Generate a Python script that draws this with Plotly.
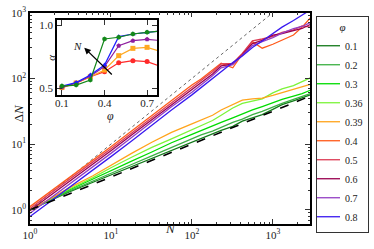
import plotly.graph_objects as go

# ---------------- data ----------------
N = [1, 2, 3, 6, 10, 18, 32, 56, 100, 130, 180, 230, 320, 420, 560, 740, 1000, 1300, 1800, 2300, 2900]

phi_labels = ["0.1", "0.2", "0.3", "0.36", "0.39", "0.4", "0.5", "0.6", "0.7", "0.8"]
phi_colors = ["#13791a", "#3cb043", "#00dc00", "#7cf43a", "#ffa41c",
              "#ff5a1a", "#dc3c55", "#99004f", "#9440c4", "#3a1af0"]

dN_01 = [1.0, 1.48, 1.86, 2.63, 3.39, 4.57, 6.03, 7.94, 10.7, 12.3, 14.5, 16.2, 18.6, 22.4, 25.1, 28.2, 33.9, 39.8, 45.7, 51.3, 56.2]
dN_02 = [1.0, 1.51, 1.91, 2.75, 3.63, 4.90, 6.61, 8.91, 12.0, 13.8, 15.8, 18.2, 21.4, 24.0, 28.2, 31.6, 37.2, 41.7, 47.9, 53.7, 58.9]
dN_03 = [1.0, 1.55, 2.0, 2.95, 3.98, 5.50, 7.59, 10.5, 14.1, 16.2, 19.1, 21.4, 25.1, 28.8, 33.1, 37.2, 42.7, 47.9, 53.7, 58.9, 66.1]
dN_036 = [1.0, 1.58, 2.04, 3.09, 4.37, 6.31, 8.91, 12.0, 16.6, 19.5, 22.9, 27.5, 35.5, 41.7, 45.7, 49.0, 60.3, 69.2, 77.6, 89.1, 102]
dN_039 = [0.977, 1.62, 2.14, 3.31, 4.79, 7.24, 10.7, 15.1, 20.4, 23.4, 27.5, 33.1, 39.8, 46.8, 49.0, 50.1, 55.0, 60.3, 67.6, 74.1, 81.3]
dN_04 = [1.12, 2.09, 3.02, 5.75, 9.12, 15.8, 26.9, 45.7, 79.4, 97.7, 132, 170, 145, 234, 363, 288, 331, 380, 457, 603, 832]
dN_05 = [1.05, 1.95, 2.82, 5.37, 8.51, 14.8, 25.1, 42.7, 74.1, 93.3, 126, 166, 170, 240, 372, 398, 437, 501, 550, 631, 603]
dN_06 = [0.977, 1.82, 2.63, 5.01, 7.94, 13.8, 23.4, 39.8, 67.6, 87.1, 117, 155, 166, 229, 339, 380, 457, 479, 525, 575, 661]
dN_07 = [0.891, 1.66, 2.40, 4.57, 7.24, 12.6, 21.9, 37.2, 61.7, 79.4, 110, 145, 162, 224, 316, 363, 417, 490, 575, 617, 708]
dN_08 = [0.794, 1.48, 2.14, 4.07, 6.46, 11.2, 19.5, 33.1, 56.2, 72.4, 100, 126, 174, 219, 295, 372, 479, 603, 760, 920, 1100]
dN_series = [dN_01, dN_02, dN_03, dN_036, dN_039, dN_04, dN_05, dN_06, dN_07, dN_08]

# reference lines
ref_N = [1, 2900]
ref_sqrt = [1, 53.9]      # dashed, slope 1/2
ref_lin = [1, 2900]       # dotted, slope 1

# inset: alpha vs phi for increasing N
phi_inset = [0.1, 0.2, 0.3, 0.4, 0.5, 0.6, 0.7, 0.8]
alpha_N1 = [0.503, 0.538, 0.59, 0.63, 0.70, 0.717, 0.71, 0.67]
alpha_N2 = [0.505, 0.54, 0.59, 0.643, 0.757, 0.815, 0.823, 0.79]
alpha_N3 = [0.507, 0.541, 0.595, 0.67, 0.836, 0.876, 0.887, 0.876]
alpha_N4 = [0.516, 0.543, 0.604, 0.683, 0.908, 0.929, 0.942, 0.953]
alpha_N5 = [0.516, 0.524, 0.564, 0.889, 0.903, 0.929, 0.942, 0.953]
alpha_series = [alpha_N1, alpha_N2, alpha_N3, alpha_N4, alpha_N5]
alpha_colors = ["#ff2a2a", "#ffa820", "#8e1d9e", "#1e1eff", "#13881a"]
alpha_symbols = ["circle", "square", "pentagon", "triangle-up", "hexagon"]

# ---------------- figure ----------------
FONT = "Liberation Serif"
fig = go.Figure()

fig.add_trace(go.Scatter(x=ref_N, y=ref_lin, mode="lines", showlegend=False,
                         line=dict(color="#666666", width=1, dash="dot"), hoverinfo="skip"))

for lab, col, ys in zip(phi_labels, phi_colors, dN_series):
    fig.add_trace(go.Scatter(x=N, y=ys, mode="lines", name=lab,
                             line=dict(color=col, width=1.3)))

fig.add_trace(go.Scatter(x=ref_N, y=ref_sqrt, mode="lines", showlegend=False,
                         line=dict(color="black", width=1.6, dash="dash"), hoverinfo="skip"))

for ys, col, sym in zip(alpha_series, alpha_colors, alpha_symbols):
    fig.add_trace(go.Scatter(x=phi_inset, y=ys, mode="lines+markers", showlegend=False,
                             xaxis="x2", yaxis="y2",
                             line=dict(color=col, width=1.2),
                             marker=dict(color=col, symbol=sym, size=5)))

dec_vals = [1, 10, 100, 1000]
dec_text = ["10<sup>0</sup>", "10<sup>1</sup>", "10<sup>2</sup>", "10<sup>3</sup>"]
minor_vals = [m * 10 ** e for e in range(-1, 4) for m in range(2, 10)]

axis_common = dict(showgrid=False, zeroline=False, showline=True, linecolor="black",
                   linewidth=1.5, ticks="inside", ticklen=5, tickwidth=1, tickcolor="#333",
                   mirror="allticks", automargin=False,
                   tickfont=dict(family=FONT, size=11, color="#222"))

txt = dict(family=FONT, color="#222")

fig.update_layout(
    width=374, height=249,
    margin=dict(l=0, r=0, t=0, b=0, pad=0, autoexpand=False),
    paper_bgcolor="white", plot_bgcolor="white",
    font=dict(family=FONT, color="#222"),
    xaxis=dict(type="log", range=[0, 3.46], domain=[0.0802, 0.829],
               tickvals=dec_vals, ticktext=dec_text, anchor="y",
               minor=dict(ticks="inside", ticklen=2.5, tickvals=minor_vals, tickcolor="#333"),
               **axis_common),
    yaxis=dict(type="log", range=[-0.215, 3], domain=[0.1004, 0.949],
               tickvals=dec_vals, ticktext=dec_text, anchor="x",
               minor=dict(ticks="inside", ticklen=2.5, tickvals=minor_vals, tickcolor="#333"),
               **axis_common),
    xaxis2=dict(range=[0.065, 0.77], domain=[0.1524, 0.4198], anchor="y2",
                tickvals=[0.1, 0.4, 0.7], ticktext=["0.1", "0.4", "0.7"],
                ticklabelstandoff=-3,
                **axis_common),
    yaxis2=dict(range=[0.445, 1.04], domain=[0.6185, 0.9197], anchor="x2",
                tickvals=[0.5, 1.0], ticktext=["0.5", "1.0"],
                **axis_common),
    legend=dict(x=0.845, y=0.936, xanchor="left", yanchor="top",
                bordercolor="#333", borderwidth=1, bgcolor="white",
                font=dict(family=FONT, size=10, color="#222"),
                title=dict(text="<i>φ</i>", side="top center", font=dict(family=FONT, size=11)),
                itemwidth=30, tracegroupgap=0, indentation=-12),
    annotations=[
        dict(text="Δ<i>N</i>", x=0.024, y=0.547, xref="paper", yref="paper",
             textangle=-90, showarrow=False, font=dict(size=13, **txt)),
        dict(text="<i>N</i>", x=0.455, y=0.045, xref="paper", yref="paper",
             showarrow=False, font=dict(size=13, **txt)),
        dict(text="<i>φ</i>", x=0.281, y=0.534, xref="paper", yref="paper",
             showarrow=False, font=dict(size=12, **txt)),
        dict(text="<i>α</i>", x=0.114, y=0.787, xref="paper", yref="paper",
             textangle=-90, showarrow=False, font=dict(size=11, **txt)),
        dict(x=0.257, y=0.82, ax=0.462, ay=0.596, xref="x2", yref="y2", axref="x2", ayref="y2",
             showarrow=True, arrowhead=2, arrowsize=1, arrowwidth=1.3, arrowcolor="black", text=""),
        dict(text="<i>N</i>", x=0.21, y=0.835, xref="x2", yref="y2", showarrow=False,
             font=dict(size=11, **txt)),
    ],
)

fig.write_html("out.html", config={"displayModeBar": False},
               post_script="document.body.style.margin='0';")
